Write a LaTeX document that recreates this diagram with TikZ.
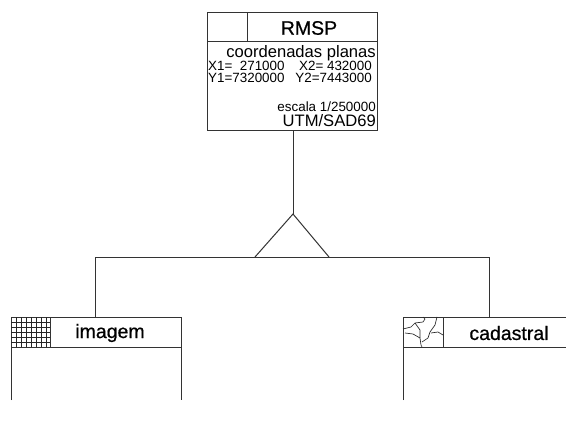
\documentclass[tikz,border=0pt]{standalone}
\usepackage{fontspec}
\setmainfont{Liberation Sans}
\usetikzlibrary{positioning,calc}
\tikzset{
    boxline/.style={draw=black!80,line width=1pt},
    thinline/.style={draw=black!85,line width=0.65pt},
    titletext/.style={inner sep=0pt,font=\fontsize{19.5}{19.5}\selectfont\addfontfeature{FakeBold=0.6}},
    bigtext/.style={inner sep=0pt,anchor=east,font=\fontsize{16.6}{16.6}\selectfont},
    smalltext/.style={inner sep=0pt,anchor=east,font=\fontsize{13.4}{13.4}\selectfont},
}
\begin{document}
\begin{tikzpicture}[x=1pt,y=-1pt]
    \useasboundingbox[fill=white] (0,0) rectangle (566,428);
    % RMSP box
    \node[boxline,minimum width=170pt,minimum height=118pt,inner sep=0pt] (rmsp) at (292,72) {};
    \coordinate (rmspdiv) at (247,13);
    \coordinate (apex) at (293,214);
    \coordinate (baseleft) at (255,257);
    \coordinate (baseright) at (329,257);
    \coordinate (busleft) at (95,257);
    \coordinate (busright) at (489,257);
    \coordinate (imagemtop) at (95,317);
    \coordinate (cadastraltop) at (489,317);
    \draw[boxline] (207,42) -- (377,42);
    \draw[boxline] (rmspdiv) -- (247,42);
    \node[titletext] (rmsptitle) at (309,28) {RMSP};
    \node[bigtext] (coordtext) at (376,53) {coordenadas planas};
    \node[smalltext,anchor=west] (xone) at (208,66) {X1=\ \ 271000};
    \node[smalltext] (xtwo) at (372,66) {X2= 432000};
    \node[smalltext,anchor=west] (yone) at (208,78) {Y1=7320000};
    \node[smalltext] (ytwo) at (372,78) {Y2=7443000};
    \node[smalltext] (scaletext) at (376,107) {escala 1/250000};
    \node[bigtext] (utmtext) at (376,121) {UTM/SAD69};
    % tree
    \draw[boxline] (293,131) -- (apex);
    \draw[boxline] (baseleft) -- (apex) -- (baseright);
    \draw[boxline] (imagemtop) -- (busleft) -- (busright) -- (cadastraltop);
    % imagem box
    \draw[boxline] (11,400) -- (11,317) -- (181,317) -- (181,400);
    \draw[boxline] (11,347) -- (181,347);
    \draw[boxline] (50,317) -- (50,347);
    \foreach \t in {16,21,...,46}{
        \draw[thinline] (\t,317) -- (\t,347);}
    \foreach \t in {322,327,...,342}{
        \draw[thinline] (11,\t) -- (50,\t);}
    \node[titletext] (imagemtitle) at (110,333) {imagem};
    % cadastral box
    \draw[boxline] (403,400) -- (403,317) -- (566,317);
    \draw[boxline] (403,347) -- (566,347);
    \draw[boxline] (443,317) -- (443,347);
    \draw[thinline] (403,329) -- (411,327) -- (415,323) -- (423,322) -- (425,319) -- (423,317);
    \draw[thinline] (405,333) -- (413,334) -- (420,338) -- (421,345) -- (422,347);
    \draw[thinline] (415,323) -- (420,330) -- (420,338);
    \draw[thinline] (437,317) -- (435,325) -- (430,332) -- (428,338) -- (422,342);
    \draw[thinline] (431,333) -- (438,332) -- (443,335);
    \node[titletext] (cadastraltitle) at (509,333) {cadastral};
\end{tikzpicture}
\end{document}
